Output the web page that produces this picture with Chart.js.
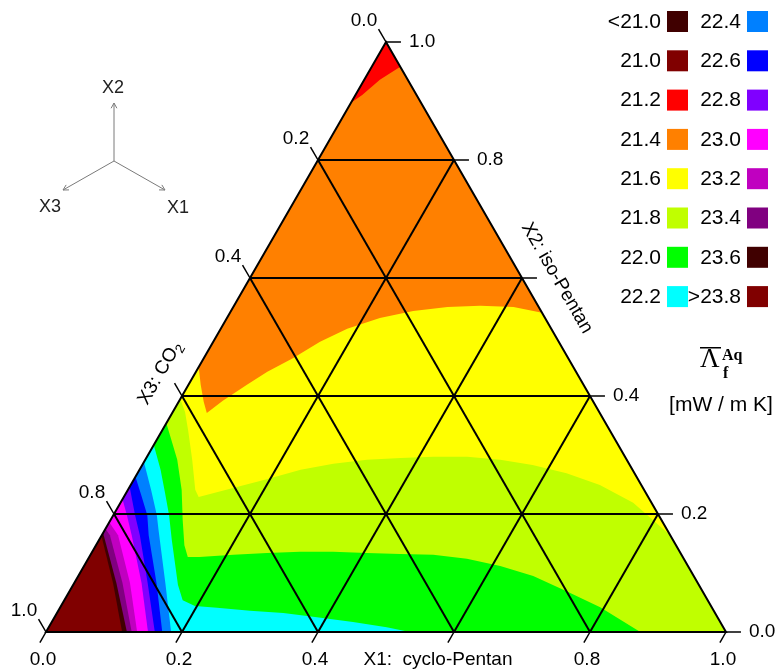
<!DOCTYPE html>
<html>
<head>
<meta charset="utf-8">
<script src="https://cdn.jsdelivr.net/npm/chart.js@4.4.1/dist/chart.umd.min.js"></script>
<style>
html,body{margin:0;padding:0;background:#fff;}
#wrap{width:778px;height:670px;position:relative;}
</style>
</head>
<body>
<div id="wrap"><canvas id="c" width="778" height="670"></canvas></div>
<script>
// ---------- data (ternary fractions: [x1 = cyclo-Pentan, x2 = iso-Pentan], x3 = CO2 = 1 - x1 - x2) ----------
const legendLabels = ['<21.0','21.0','21.2','21.4','21.6','21.8','22.0','22.2',
                      '22.4','22.6','22.8','23.0','23.2','23.4','23.6','>23.8'];
const legendColors = ['#400000','#800000','#ff0000','#ff8000','#ffff00','#c0ff00','#00ff00','#00ffff',
                      '#0080ff','#0000ff','#8000ff','#ff00ff','#c000c0','#800080','#400000','#800000'];
const gridValues = [0.2, 0.4, 0.6, 0.8];
const tickValues = [0.0, 0.2, 0.4, 0.6, 0.8, 1.0];
const tickLabels = ['0.0','0.2','0.4','0.6','0.8','1.0'];
const axisTitleX1 = 'X1:  cyclo-Pentan';
const axisTitleX2 = 'X2: iso-Pentan';
const axisTitleX3 = 'X3: CO';
const unitLabel = '[mW / m K]';

// contour lines
const iso212 = [[0.042,0.958],[0.023,0.936],[0.010,0.910],[0,0.897]];
const iso216 = [[0,0.449],[0.018,0.419],[0.037,0.390],[0.051,0.371],[0.064,0.392],[0.086,0.419],
                [0.105,0.441],[0.131,0.464],[0.157,0.492],[0.186,0.514],[0.225,0.532],[0.268,0.544],
                [0.315,0.551],[0.362,0.553],[0.412,0.551],[0.459,0.541]];
const iso218 = [[0,0.395],[0.018,0.373],[0.038,0.342],[0.069,0.292],[0.099,0.241],[0.110,0.229],
                [0.153,0.244],[0.195,0.259],[0.237,0.275],[0.280,0.285],[0.326,0.292],[0.374,0.295],
                [0.421,0.297],[0.471,0.297],[0.522,0.292],[0.574,0.283],[0.631,0.269],[0.690,0.249],
                [0.754,0.219],[0.836,0.164]];
const iso220 = [[0,0.354],[0.022,0.325],[0.047,0.292],[0.079,0.241],[0.106,0.190],[0.130,0.147],
                [0.145,0.127],[0.162,0.127],[0.210,0.131],[0.258,0.134],[0.306,0.136],[0.354,0.136],
                [0.405,0.134],[0.455,0.132],[0.504,0.131],[0.557,0.124],[0.612,0.112],[0.669,0.095],
                [0.731,0.069],[0.794,0.042],[0.874,0]];
const iso222 = [[0,0.317],[0.031,0.275],[0.057,0.236],[0.082,0.198],[0.107,0.156],[0.133,0.114],
                [0.154,0.080],[0.174,0.054],[0.197,0.044],[0.231,0.041],[0.282,0.036],[0.333,0.032],
                [0.386,0.025],[0.443,0.017],[0.497,0.008],[0.535,0]];
const iso224 = [[0,0.288],[0.034,0.241],[0.064,0.198],[0.079,0.173],[0.134,0.083],[0.184,0]];
const iso226 = [[0,0.263],[0.024,0.232],[0.050,0.198],[0.069,0.164],[0.121,0.083],[0.171,0]];
const iso228 = [[0,0.246],[0.032,0.198],[0.056,0.164],[0.108,0.083],[0.160,0]];
const iso230 = [[0,0.225],[0.020,0.198],[0.044,0.164],[0.099,0.083],[0.150,0]];
const iso232 = [[0,0.186],[0.024,0.164],[0.082,0.083],[0.134,0]];
const iso234 = [[0,0.175],[0.012,0.164],[0.071,0.083],[0.126,0]];
const iso236 = [[0,0.168],[0.062,0.083],[0.119,0]];
const iso238 = [[0,0.163],[0.057,0.083],[0.112,0]];

// ---------- build ----------
const col = (lab) => legendColors[legendLabels.indexOf(lab)];
const TOP = [0,1], BL = [0,0], BR = [1,0];
const regions = [
  {color: col('21.4'),  pts: [BL, BR, TOP]},
  {color: col('21.2'),  pts: [TOP, ...iso212]},
  {color: col('21.6'),  pts: [...iso216, BR, BL]},
  {color: col('21.8'),  pts: [...iso218, BR, BL]},
  {color: col('22.0'),  pts: [...iso220, BL]},
  {color: col('22.2'),  pts: [...iso222, BL]},
  {color: col('22.4'),  pts: [...iso224, BL]},
  {color: col('22.6'),  pts: [...iso226, BL]},
  {color: col('22.8'),  pts: [...iso228, BL]},
  {color: col('23.0'),  pts: [...iso230, BL]},
  {color: col('23.2'),  pts: [...iso232, BL]},
  {color: col('23.4'),  pts: [...iso234, BL]},
  {color: col('23.6'),  pts: [...iso236, BL]},
  {color: col('>23.8'), pts: [...iso238, BL]}
];

const toXY = (p) => ({x: p[0] + p[1] / 2, y: p[1]});
const datasets = [];
regions.forEach(r => datasets.push({
  data: r.pts.map(toXY), region: true, regionColor: r.color,
  showLine: false, pointRadius: 0, pointHoverRadius: 0, clip: false
}));
function addLine(pts, w) {
  datasets.push({
    data: pts.map(toXY), showLine: true, borderColor: '#000', borderWidth: w,
    pointRadius: 0, pointHoverRadius: 0, clip: false, tension: 0,
    borderJoinStyle: 'miter', borderCapStyle: 'butt', fill: false
  });
}
gridValues.forEach(c => {
  addLine([[0, c], [1 - c, c]], 2);        // x2 = c
  addLine([[c, 0], [c, 1 - c]], 2);        // x1 = c
  addLine([[1 - c, 0], [0, 1 - c]], 2);    // x3 = c
});
addLine([BL, BR, TOP, BL, BR], 2);
const tickB = 0.018, tickS = 0.022;
tickValues.forEach(t => {
  addLine([[t, 0], [t, -tickB]], 1.5);                 // X1 ticks
  addLine([[1 - t, t], [1 - t + tickS, t]], 1.5);      // X2 ticks
  addLine([[0, 1 - t], [-tickS, 1 - t + tickS]], 1.5); // X3 ticks
});

const regionFill = {
  id: 'regionFill',
  beforeDatasetsDraw(chart) {
    const ctx = chart.ctx;
    chart.data.datasets.forEach((ds, i) => {
      if (!ds.region) return;
      const pts = chart.getDatasetMeta(i).data;
      ctx.save();
      ctx.beginPath();
      pts.forEach((p, j) => j ? ctx.lineTo(p.x, p.y) : ctx.moveTo(p.x, p.y));
      ctx.closePath();
      ctx.fillStyle = ds.regionColor;
      ctx.fill();
      ctx.restore();
    });
  }
};

const SANS = '"Liberation Sans", Arial, sans-serif';
const SERIF = '"Liberation Serif", "Times New Roman", serif';
const textPlugin = {
  id: 'texts',
  afterDraw(chart) {
    const ctx = chart.ctx, X = chart.scales.x, Y = chart.scales.y;
    const P = (x1, x2) => [X.getPixelForValue(x1 + x2 / 2), Y.getPixelForValue(x2)];
    ctx.save();
    ctx.fillStyle = '#000';
    ctx.textBaseline = 'middle';
    ctx.font = '19px ' + SANS;
    tickValues.forEach((t, i) => {
      if (Math.abs(t - 0.6) < 1e-9) return;
      let [x, y] = P(t, 0);
      ctx.textAlign = 'center'; ctx.fillText(tickLabels[i], x - 3, y + 28);
      [x, y] = P(1 - t, t);
      ctx.textAlign = 'left'; ctx.fillText(tickLabels[i], x + 23, y);
      [x, y] = P(0, 1 - t);
      ctx.textAlign = 'center'; ctx.fillText(tickLabels[i], x - 22, y - 21);
    });
    // axis titles
    let [x, y] = P(0.6, 0);
    ctx.textAlign = 'center'; ctx.fillText(axisTitleX1, x - 16, y + 28);
    [x, y] = P(0.4, 0.6);
    ctx.save(); ctx.translate(x + 35, y); ctx.rotate(Math.PI / 3);
    ctx.fillText(axisTitleX2, 0, 0); ctx.restore();
    [x, y] = P(0, 0.4);
    ctx.save(); ctx.translate(x - 22, y - 23); ctx.rotate(-Math.PI / 3);
    const w1 = ctx.measureText(axisTitleX3).width;
    ctx.font = '13px ' + SANS;
    const w2 = ctx.measureText('2').width;
    ctx.textAlign = 'left';
    ctx.font = '19px ' + SANS;
    ctx.fillText(axisTitleX3, -(w1 + w2) / 2, 0);
    ctx.font = '13px ' + SANS;
    ctx.fillText('2', -(w1 + w2) / 2 + w1, 6);
    ctx.restore();

    // legend
    ctx.font = '21px ' + SANS;
    ctx.textAlign = 'right';
    for (let i = 0; i < 16; i++) {
      const colI = Math.floor(i / 8), row = i % 8;
      const top = 11 + row * 39.3;
      const sx = colI ? 747 : 667;
      ctx.fillStyle = '#000';
      ctx.fillText(legendLabels[i], sx - 6, top + 11);
      ctx.fillStyle = legendColors[i];
      ctx.fillRect(sx, top, 21, 21);
    }
    // quantity symbol
    ctx.fillStyle = '#000';
    ctx.textAlign = 'left';
    ctx.textBaseline = 'alphabetic';
    ctx.font = '27px ' + SERIF;
    ctx.fillText('\u039B', 700, 367);
    ctx.fillRect(700, 347, 21, 1.5);
    ctx.font = 'bold 16px ' + SERIF;
    ctx.fillText('Aq', 722, 360);
    ctx.fillText('f', 723, 378);
    ctx.font = '21px ' + SANS;
    ctx.textAlign = 'center';
    ctx.textBaseline = 'middle';
    ctx.fillText(unitLabel, 721, 405);

    // orientation icon
    const cx = 114, cy = 161;
    const tips = [[114, 103], [63, 190], [165, 190]];
    ctx.strokeStyle = '#7a7a7a'; ctx.lineWidth = 1;
    tips.forEach(([tx, ty]) => {
      ctx.beginPath(); ctx.moveTo(cx, cy); ctx.lineTo(tx, ty); ctx.stroke();
      const a = Math.atan2(ty - cy, tx - cx), L = 6, s = 0.5;
      ctx.beginPath();
      ctx.moveTo(tx - L * Math.cos(a - s), ty - L * Math.sin(a - s));
      ctx.lineTo(tx, ty);
      ctx.lineTo(tx - L * Math.cos(a + s), ty - L * Math.sin(a + s));
      ctx.stroke();
    });
    ctx.fillStyle = '#222';
    ctx.font = '18px ' + SANS;
    ctx.fillText('X2', 113, 88);
    ctx.fillText('X3', 50, 207);
    ctx.fillText('X1', 178, 208);
    ctx.restore();
  }
};

new Chart(document.getElementById('c'), {
  type: 'scatter',
  data: {datasets},
  options: {
    responsive: false,
    devicePixelRatio: 1,
    animation: false,
    events: [],
    layout: {padding: {left: 46, right: 52, top: 42, bottom: 38}},
    scales: {
      x: {type: 'linear', min: 0, max: 1, display: false},
      y: {type: 'linear', min: 0, max: 1, display: false}
    },
    plugins: {legend: {display: false}, tooltip: {enabled: false}, title: {display: false}}
  },
  plugins: [regionFill, textPlugin]
});
</script>
</body>
</html>
